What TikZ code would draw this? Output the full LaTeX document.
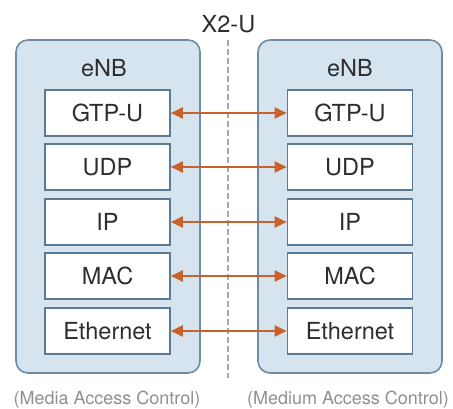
\documentclass[tikz,border=0pt]{standalone}
\usepackage{fontspec}
\setmainfont{TeX Gyre Heros}
\usetikzlibrary{arrows.meta}
\definecolor{enbfill}{HTML}{D6E4F0}
\definecolor{enbline}{HTML}{6E8CA6}
\definecolor{layerline}{HTML}{5A7A95}
\definecolor{txt}{HTML}{2E2E2E}
\definecolor{arrowc}{HTML}{C8622B}
\definecolor{note}{HTML}{909090}
\definecolor{dashc}{HTML}{A8A8A8}
\begin{document}
\begin{tikzpicture}[x=1pt,y=-1pt,
  enb/.style={draw=enbline, line width=1.6pt, fill=enbfill, rounded corners=12pt,
    minimum width=184pt, minimum height=333pt, inner sep=0pt},
  layer/.style={draw=layerline, line width=1.6pt, fill=white,
    minimum width=125pt, minimum height=46pt, inner sep=0pt,
    font=\fontsize{23.5}{26}\selectfont, text=txt},
  title/.style={font=\fontsize{23.5}{26}\selectfont, text=txt, inner sep=0pt},
  notetext/.style={font=\fontsize{18}{20}\selectfont, text=note, inner sep=0pt},
  link/.style={draw=arrowc, line width=2pt,
    {Triangle[length=12pt,width=11pt]}-{Triangle[length=12pt,width=11pt]}}]
  \useasboundingbox (0,0) rectangle (453,409);

  % interface separator
  \node[title] (x2u) at (228.5,24) {X2-U};
  \coordinate (sepTop) at (228,40);
  \coordinate (sepBot) at (228,378);
  \draw[dashc, line width=1.5pt, dash pattern=on 6pt off 3pt] (sepTop) -- (sepBot);

  % the two eNB protocol stacks
  \node[enb] (enbL) at (108,206.5) {};
  \node[enb] (enbR) at (350,206.5) {};
  \node[title] (tL) at (104,68) {eNB};
  \node[title] (tR) at (350,68) {eNB};

  \foreach \name/\lbl/\yy in {1/GTP-U/113, 2/UDP/167, 3/IP/222, 4/MAC/276, 5/Ethernet/331} {
    \node[layer] (L\name) at (107.5,\yy) {\lbl};
    \node[layer] (R\name) at (350,\yy) {\lbl};
    \draw[link] (L\name.east) -- (R\name.west);
  }

  % footnotes
  \node[notetext] (nL) at (107,400) {(Media Access Control)};
  \node[notetext] (nR) at (348,400) {(Medium Access Control)};
\end{tikzpicture}
\end{document}
